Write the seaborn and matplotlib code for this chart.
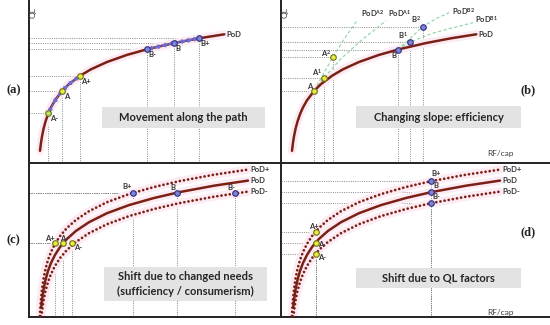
import numpy as np
import matplotlib.pyplot as plt
import seaborn as sns
from matplotlib.patches import Rectangle

sns.set_theme(style="white")
plt.rcParams['font.family'] = ['Lato', 'DejaVu Sans']
plt.rcParams['mathtext.fontset'] = 'custom'
plt.rcParams['mathtext.rm'] = 'Lato:bold'
plt.rcParams['mathtext.it'] = 'Lato:bold'
plt.rcParams['mathtext.bf'] = 'Lato:bold'

# ------------ data (arbitrary units) ------------
# upper panels: path of development (PoD), QL over RF/cap
pod_rf = [11, 12, 13, 14.5, 16.5, 19.3, 22, 26, 33.3, 40, 51, 62, 78, 98, 118.3, 145.3, 170, 195.3]
pod_ql = [11.9, 20.0, 26.3, 33.7, 41.2, 49.3, 55.3, 62.4, 72.0, 78.6, 86.9, 93.4, 100.7, 107.8, 113.5, 119.7, 124.4, 128.4]

# (a) movement along the path
move_names = ["A-", "A", "A+", "B-", "B", "B+"]
move_rf = [19.3, 33.3, 51, 118.3, 145.3, 170]
move_ql = [49.3, 72.0, 86.9, 113.5, 119.7, 124.4]

# (b) changing slope: efficiency
eff_names = ["A", "A$^1$", "A$^2$", "B", "B$^1$", "B$^2$"]
eff_rf = [33.3, 43, 52, 116.6, 129, 141.6]
eff_ql = [72.0, 85, 106, 113.1, 120.4, 136]
pod_a1_rf = [33.3, 43, 60, 80, 105]
pod_a1_ql = [72.0, 85, 104, 122, 142]
pod_a2_rf = [33.3, 42, 52, 64, 76]
pod_a2_ql = [72.0, 88, 106, 125, 142]
pod_b1_rf = [116.6, 129, 150, 172, 192]
pod_b1_ql = [113.1, 120.4, 129, 135, 140]
pod_b2_rf = [116.6, 130, 141.6, 155, 168]
pod_b2_ql = [113.1, 125, 136, 144, 150]

# lower panels: PoD and the shifted paths PoD+ / PoD-
pod2_rf = [12.2, 13, 14.5, 16.5, 19, 22, 26, 31, 34, 38, 47, 60, 78, 100, 125, 150, 185, 219]
pod2_ql = [8.9, 16.5, 26.9, 36.8, 45.7, 53.7, 61.8, 69.6, 73.4, 77.8, 85.8, 94.5, 103.5, 111.6, 118.7, 124.5, 131.0, 136.1]
podp_rf = [10.9, 11.5, 12.2, 13, 14.5, 16.5, 19, 22, 26, 31, 38, 47, 60, 78, 100, 125, 150, 185, 219]
podp_ql = [0.7, 11.1, 19.9, 27.5, 37.9, 47.8, 56.7, 64.7, 72.8, 80.6, 88.8, 96.8, 105.5, 114.5, 122.6, 129.7, 135.5, 142.0, 147.1]
podm_rf = [12.4, 13, 14.5, 16.5, 19, 22, 26, 31, 38, 47, 60, 78, 100, 125, 150, 185, 219]
podm_ql = [0.0, 5.5, 15.9, 25.8, 34.7, 42.7, 50.8, 58.6, 66.8, 74.8, 83.5, 92.5, 100.6, 107.7, 113.5, 120.0, 125.1]

# (c) shift due to changed needs
needs_names = ["A+", "A", "A-", "B+", "B", "B-"]
needs_rf = [25.7, 34, 43.4, 104, 148.4, 206.4]
needs_ql = [73.4, 73.4, 73.4, 124.2, 124.2, 124.2]

# (d) shift due to QL factors
qlf_names = ["A+", "A", "A-", "B+", "B", "B-"]
qlf_rf = [34.7, 34.7, 34.7, 149.7, 149.7, 149.7]
qlf_ql = [85.2, 74.2, 63.2, 135.4, 124.4, 113.4]

# ------------ style ------------
DARK = "#7b2014"
GLOW = "#fdebf4"
GRID = "#8a8a8a"
GREEN = "#8fd3a0"
ARROW = "#6b6fd6"
A_FILL, A_EDGE = "#e8ec3c", "#6d6d18"
B_FILL, B_EDGE = "#7f82da", "#2b2f7a"
TXT = "#333333"

W, H = 550, 325
fig = plt.figure(figsize=(5.5, 3.25), dpi=100)


def make_ax(x0, y0, x1, y1):
    # box in picture pixels (y from the top), one data unit = one pixel
    ax = fig.add_axes([x0 / W, 1 - y1 / H, (x1 - x0) / W, (y1 - y0) / H])
    ax.set_xlim(0, x1 - x0)
    ax.set_ylim(0, y1 - y0)
    ax.set_xticks([])
    ax.set_yticks([])
    ax.patch.set_alpha(0)
    for s in ["top", "right"]:
        ax.spines[s].set_visible(False)
    for s in ["left", "bottom"]:
        ax.spines[s].set_color("#222222")
        ax.spines[s].set_linewidth(1.4)
    return ax


def curve(ax, rf, ql, dotted=False):
    ax.plot(rf, ql, color=GLOW, lw=6, solid_capstyle="round", zorder=1)
    if dotted:
        sns.lineplot(x=rf, y=ql, ax=ax, color=DARK, lw=2.0, linestyle=(0, (0.01, 1.5)),
                     dash_capstyle="round", estimator=None, sort=False, legend=False, zorder=3)
    else:
        sns.lineplot(x=rf, y=ql, ax=ax, color=DARK, lw=1.8, estimator=None,
                     sort=False, legend=False, zorder=3)


def guides(ax, rf, ql, to_min=False):
    for i in range(len(rf)):
        x_end = rf[i]
        if to_min:
            x_end = min(r for r, q in zip(rf, ql) if q == ql[i])
        ax.plot([0, x_end], [ql[i], ql[i]], color=GRID, lw=0.7, ls=(0, (1, 1.3)), zorder=0)
        ax.plot([rf[i], rf[i]], [0, ql[i]], color=GRID, lw=0.7, ls=(0, (1, 1.3)), zorder=0)


def points(ax, names, rf, ql, offsets, a_fill=None):
    for name, x, y, (dx, dy, ha, va) in zip(names, rf, ql, offsets):
        if name.startswith("A"):
            fill, edge = A_FILL, A_EDGE
            if a_fill and name == "A-":
                fill = a_fill
        else:
            fill, edge = B_FILL, B_EDGE
        sns.scatterplot(x=[x], y=[y], ax=ax, s=16, color=fill, edgecolor=edge,
                        linewidth=0.8, zorder=6, legend=False)
        ax.annotate(name, (x, y), xytext=(dx, dy), textcoords="offset pixels",
                    ha=ha, va=va, fontsize=5.5, fontweight="bold", color=TXT, zorder=7)


def path_arrows(ax, x_from, x_to, n):
    xs = np.linspace(x_from, x_to, n + 1)
    ys = np.interp(xs, pod_rf, pod_ql)
    for i in range(n):
        ax.annotate("", xy=(xs[i + 1], ys[i + 1]), xytext=(xs[i], ys[i]),
                    arrowprops=dict(arrowstyle="-|>", color=ARROW, lw=1.0,
                                    mutation_scale=6, shrinkA=0, shrinkB=0), zorder=4)


def note(ax, x0, y0, x1, y1, text):
    ax.add_patch(Rectangle((x0, y0), x1 - x0, y1 - y0, facecolor="#e3e3e3",
                           edgecolor="none", zorder=2))
    ax.text((x0 + x1) / 2, (y0 + y1) / 2, text, ha="center", va="center", fontsize=8,
            fontweight="bold", color="#262626", zorder=3, linespacing=1.35)


def end_label(ax, rf, ql, text, dx=2, dy=0):
    ax.annotate(text, (rf[-1], ql[-1]), xytext=(dx, dy), textcoords="offset pixels",
                ha="left", va="center", fontsize=5.5, fontweight="bold", color=TXT)


ax_a = make_ax(29, 0, 281, 162.7)
ax_b = make_ax(281, 0, 550, 162.7)
ax_c = make_ax(29, 162.7, 281, 316.7)
ax_d = make_ax(281, 162.7, 550, 316.7)

# ---- (a) movement along the path ----
guides(ax_a, move_rf, move_ql)
curve(ax_a, pod_rf, pod_ql)
path_arrows(ax_a, move_rf[1], move_rf[0], 3)
path_arrows(ax_a, move_rf[1], move_rf[2], 3)
path_arrows(ax_a, move_rf[4], move_rf[3], 4)
path_arrows(ax_a, move_rf[4], move_rf[5], 4)
points(ax_a, move_names, move_rf, move_ql, [(1.5, -2, "left", "top")] * 6, a_fill="#b6e35a")
end_label(ax_a, pod_rf, pod_ql, "PoD")
note(ax_a, 72.7, 34.4, 236, 56, "Movement along the path")

# ---- (b) changing slope ----
guides(ax_b, eff_rf, eff_ql)
curve(ax_b, pod_rf, pod_ql)
for rf, ql, lab, off in [(pod_a2_rf, pod_a2_ql, r"PoD$^{\mathrm{A2}}$", (4, 7)),
                         (pod_a1_rf, pod_a1_ql, r"PoD$^{\mathrm{A1}}$", (2, 7)),
                         (pod_b2_rf, pod_b2_ql, r"PoD$^{\mathrm{B2}}$", (3, 1)),
                         (pod_b1_rf, pod_b1_ql, r"PoD$^{\mathrm{B1}}$", (2, 3))]:
    sns.lineplot(x=rf, y=ql, ax=ax_b, color=GREEN, lw=0.8, linestyle=(0, (3, 2)),
                 estimator=None, sort=False, legend=False, zorder=2)
    end_label(ax_b, rf, ql, lab, *off)
points(ax_b, eff_names, eff_rf, eff_ql,
       [(-2, 1, "right", "bottom"), (-1.5, 0, "right", "bottom"), (-1.5, -2, "right", "bottom"),
        (-1.5, -2, "right", "top"), (-2, 1.5, "right", "bottom"), (-1.5, 1.5, "right", "bottom")])
end_label(ax_b, pod_rf, pod_ql, "PoD")
note(ax_b, 75, 34.4, 240, 56.7, "Changing slope: efficiency")
ax_b.text(219, 9, "RF/cap", ha="center", va="center", fontsize=6, color="#404040")

# ---- (c) changed needs ----
guides(ax_c, needs_rf, needs_ql, to_min=True)
curve(ax_c, podp_rf, podp_ql, dotted=True)
curve(ax_c, podm_rf, podm_ql, dotted=True)
curve(ax_c, pod2_rf, pod2_ql)
points(ax_c, needs_names, needs_rf, needs_ql,
       [(0, 1.5, "right", "bottom"), (0, 1.5, "center", "bottom"), (1.5, -1, "left", "top"),
        (-1.5, 2, "right", "bottom"), (-2.5, 1.5, "right", "bottom"), (-0.5, 1.5, "right", "bottom")])
end_label(ax_c, podp_rf, podp_ql, "PoD+")
end_label(ax_c, pod2_rf, pod2_ql, "PoD")
end_label(ax_c, podm_rf, podm_ql, "PoD-")
note(ax_c, 74.7, 15.4, 238.4, 50, "Shift due to changed needs\n(sufficiency / consumerism)")

# ---- (d) QL factors ----
guides(ax_d, qlf_rf, qlf_ql)
curve(ax_d, podp_rf, podp_ql, dotted=True)
curve(ax_d, podm_rf, podm_ql, dotted=True)
curve(ax_d, pod2_rf, pod2_ql)
points(ax_d, qlf_names, qlf_rf, qlf_ql,
       [(-2, 1, "center", "bottom"), (2.5, 1, "left", "top"), (2.5, 0, "left", "top"),
        (1, 4, "left", "bottom"), (2.5, 3.4, "left", "bottom"), (2, 3.4, "left", "bottom")])
end_label(ax_d, podp_rf, podp_ql, "PoD+")
end_label(ax_d, pod2_rf, pod2_ql, "PoD")
end_label(ax_d, podm_rf, podm_ql, "PoD-")
note(ax_d, 75, 29, 239.7, 48.4, "Shift due to QL factors")
ax_d.text(220, 3.7, "RF/cap", ha="center", va="center", fontsize=6, color="#404040")

# axis titles
for ax in [ax_a, ax_b]:
    ax.text(4.3, 149.7, "QL", rotation=90, ha="center", va="center", fontsize=6, color="#404040")

# panel letters
for lab, x, y in [("(a)", 13.3, 90), ("(b)", 528, 90), ("(c)", 13.3, 240), ("(d)", 528, 232.7)]:
    fig.text(x / W, 1 - y / H, lab, ha="center", va="center", fontsize=9,
             fontweight="bold", family="Liberation Serif", color="#222222")

fig.savefig("out.png", dpi=100)
